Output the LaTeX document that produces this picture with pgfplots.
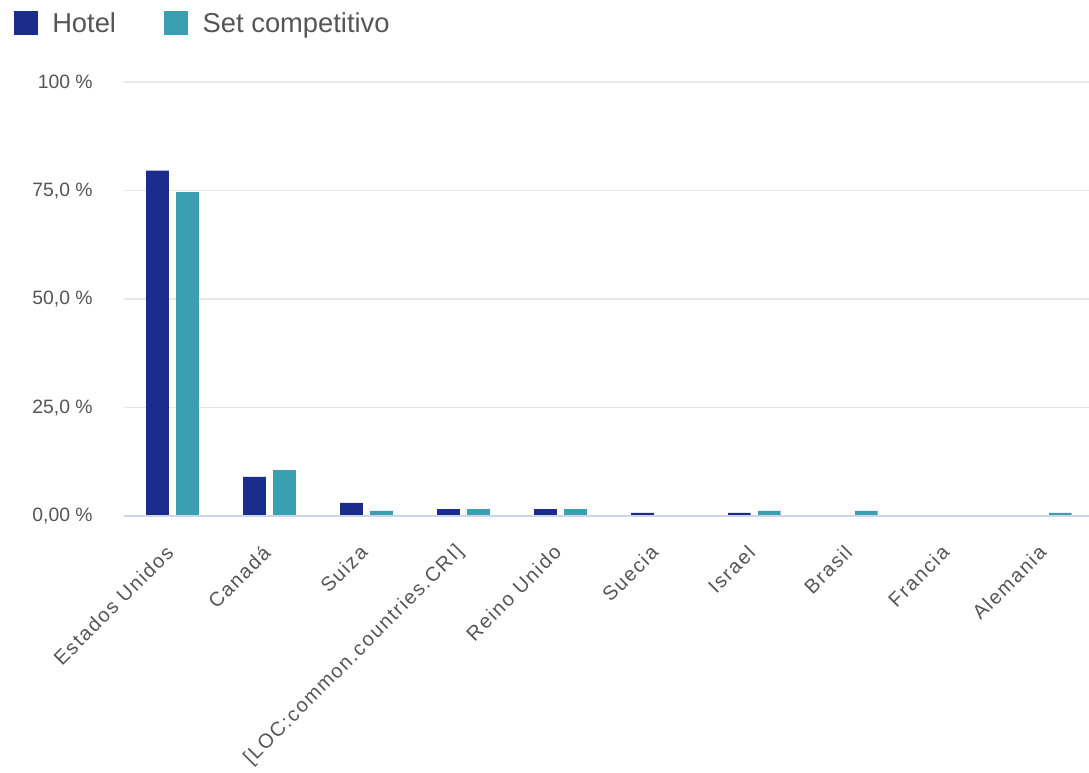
\documentclass[border=0pt]{standalone}
\usepackage{fontspec}
\setmainfont{Liberation Sans}
\newfontfamily\lblfont[LetterSpace=8]{Liberation Sans}
\usepackage{pgfplots}
\pgfplotsset{compat=1.18}
\definecolor{hotel}{HTML}{1B2D8C}
\definecolor{setc}{HTML}{3AA0B1}
\definecolor{txt}{HTML}{555555}
\definecolor{gridc}{HTML}{E8E8E8}
\definecolor{basec}{HTML}{CCD6EB}
\begin{document}
\begin{tikzpicture}
\useasboundingbox (-93pt,-192pt) rectangle (723.75pt,387pt);
\begin{axis}[
  scale only axis,
  width=723.75pt, height=325.5pt,
  ybar, bar width=17pt,
  xmin=-0.5, xmax=9.45,
  ymin=0, ymax=100,
  xtick={0,...,9},
  xticklabels={Estados Unidos, Canadá, Suiza, {[LOC:common.countries.CRI]}, Reino Unido, Suecia, Israel, Brasil, Francia, Alemania},
  ytick={0,25,50,75,100},
  yticklabels={{0,00 \%},{25,0 \%},{50,0 \%},{75,0 \%},{100 \%}},
  major tick length=0pt,
  axis line style={draw=none},
  ymajorgrids, grid style={gridc, line width=1.2pt},
  xticklabel style={rotate=45, anchor=east, font=\lblfont\fontsize{15}{16}\selectfont, text=txt, yshift=-16pt, xshift=-15.5pt},
  yticklabel style={font=\fontsize{14.5}{16}\selectfont, text=txt, xshift=-20pt},
  legend style={at={(axis description cs:0,1)}, anchor=west, xshift=-86pt, yshift=44pt, draw=none, fill=none, legend columns=2, font=\fontsize{20.5}{23}\selectfont, text=txt, /tikz/every odd column/.append style={column sep=9pt}, /tikz/every even column/.append style={column sep=34pt}},
  legend image code/.code={\fill[#1] (0pt,-9pt) rectangle (18pt,9pt);},
  clip=false,
]
\addplot[fill=hotel, draw=none, bar shift=-11.25pt] coordinates {(0,79.6) (1,9.0) (2,3.0) (3,1.6) (4,1.6) (5,0.7) (6,0.7) (7,0) (8,0) (9,0)};
\addplot[fill=setc, draw=none, bar shift=11.25pt] coordinates {(0,74.6) (1,10.6) (2,1.2) (3,1.6) (4,1.6) (5,0) (6,1.2) (7,1.2) (8,0) (9,0.7)};
\legend{Hotel, Set competitivo}
\draw[basec, line width=1pt] (rel axis cs:0,0) -- (rel axis cs:1,0);
\end{axis}
\end{tikzpicture}
\end{document}
